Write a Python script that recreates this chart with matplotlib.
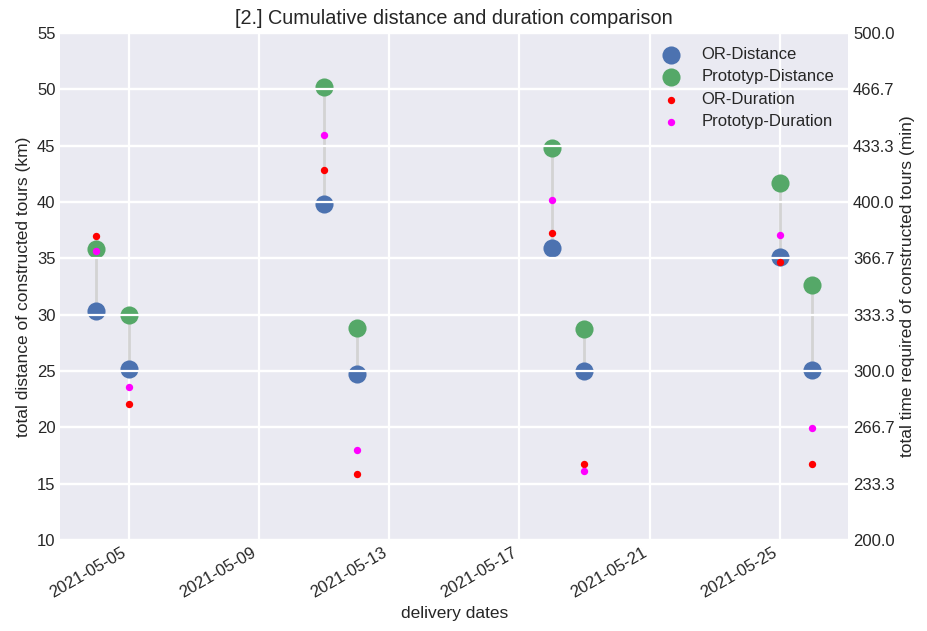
import datetime as dt
import matplotlib
matplotlib.use('Agg')
import matplotlib.pyplot as plt
import matplotlib.dates as mdates
import numpy as np

dates = ['2021-05-04', '2021-05-05', '2021-05-11', '2021-05-12',
         '2021-05-18', '2021-05-19', '2021-05-25', '2021-05-26']
or_distance = [30.3, 25.2, 39.8, 24.7, 35.9, 25.0, 35.1, 25.1]
proto_distance = [35.8, 30.0, 50.2, 28.8, 44.8, 28.7, 41.7, 32.6]
or_duration = [380.0, 280.3, 419.0, 239.1, 381.9, 245.0, 364.7, 245.0]
proto_duration = [371.0, 290.8, 439.7, 253.3, 401.2, 240.9, 380.5, 266.1]

plt.style.use('seaborn-v0_8-darkgrid')
plt.rcParams['font.family'] = ['Liberation Sans', 'DejaVu Sans']
plt.rcParams['grid.linewidth'] = 1.6

x = [dt.datetime.strptime(d, '%Y-%m-%d') for d in dates]

fig = plt.figure(figsize=(9.28, 6.31), dpi=100)
ax = fig.add_axes([0.065, 0.144, 0.849, 0.804])

# Verbindungslinien zwischen OR und Prototyp
ax.vlines(x, or_distance, proto_distance, color='lightgray', linewidth=2, zorder=1)
h1 = ax.scatter(x, or_distance, s=170, color='#4C72B0', linewidths=0,
                label='OR-Distance', zorder=2)
h2 = ax.scatter(x, proto_distance, s=170, color='#55A868', linewidths=0,
                label='Prototyp-Distance', zorder=2)

ax.set_ylim(10, 55)
ax.set_yticks(np.arange(10, 56, 5))
ax.set_ylabel('total distance of constructed tours (km)', fontsize=12.5)
ax.set_xlabel('delivery dates', fontsize=12.5)
ax.tick_params(labelsize=12)

ax2 = ax.twinx()
h3 = ax2.scatter(x, or_duration, s=28, color='red', linewidths=0,
                 label='OR-Duration', zorder=3)
h4 = ax2.scatter(x, proto_duration, s=28, color='magenta', linewidths=0,
                 label='Prototyp-Duration', zorder=3)
ax2.set_ylim(200, 500)
ax2.set_yticks(np.linspace(200, 500, 10))
ax2.yaxis.set_major_formatter(plt.FormatStrFormatter('%.1f'))
ax2.set_ylabel('total time required of constructed tours (min)', fontsize=12.5)
ax2.tick_params(labelsize=12)

ax.xaxis.set_major_locator(mdates.DayLocator(bymonthday=[5, 9, 13, 17, 21, 25]))
ax.xaxis.set_major_formatter(mdates.DateFormatter('%Y-%m-%d'))
for lbl in ax.get_xticklabels():
    lbl.set_rotation(30)
    lbl.set_ha('right')

ax2.legend(handles=[h1, h2, h3, h4], loc='upper right', fontsize=12,
           labelspacing=0.45, borderaxespad=0.45)
ax.set_title('[2.] Cumulative distance and duration comparison', fontsize=14.3)

fig.savefig('out.png', dpi=100)
